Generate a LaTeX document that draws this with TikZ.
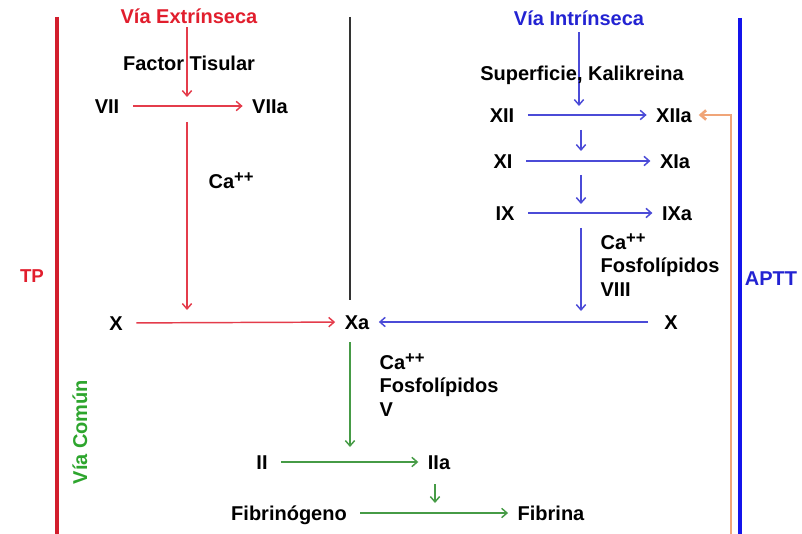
\documentclass[tikz,border=0pt]{standalone}
\usepackage{fontspec}
\setmainfont{Liberation Sans}
\usetikzlibrary{arrows.meta}
\definecolor{extred}{RGB}{225,30,45}
\definecolor{barred}{RGB}{210,30,45}
\definecolor{extarrow}{RGB}{228,60,75}
\definecolor{intblue}{RGB}{35,35,210}
\definecolor{intarrow}{RGB}{75,75,215}
\definecolor{barblue}{RGB}{20,20,235}
\definecolor{comgreen}{RGB}{45,165,45}
\definecolor{comarrow}{RGB}{70,155,70}
\definecolor{fborange}{RGB}{240,165,120}
\newcommand{\ionpp}{\raisebox{4.5pt}{\fontsize{12.5}{12.5}\selectfont ++}}

\begin{document}
\begin{tikzpicture}[x=0.75pt,y=0.75pt,yscale=-1,xscale=1,
  lbl/.style={font=\fontsize{15}{18}\selectfont\bfseries, inner sep=1pt, text height=10.7pt, text depth=0pt},
  blk/.style={font=\fontsize{15}{17.6}\selectfont\bfseries, inner sep=1pt, align=left, anchor=west},
  link/.style={line width=1.1pt, -{Straight Barb[length=4pt,width=7pt]}, shorten <=9pt, shorten >=6pt},
  drop/.style={line width=1.1pt, -{Straight Barb[length=4pt,width=7pt]}},
  bar/.style={line width=3pt}
]
\useasboundingbox (0,0) rectangle (802,534);

%bars
\coordinate (tpTop) at (57,17);
\coordinate (tpBot) at (57,534);
\coordinate (apTop) at (740,18);
\coordinate (apBot) at (740,534);
\coordinate (midTop) at (350,17);
\draw [bar, barred] (tpTop) -- (tpBot);
\draw [bar, barblue] (apTop) -- (apBot);
\node [lbl, extred, font=\fontsize{14}{16}\selectfont\bfseries] (tp) at (32,275) {TP};
\node [lbl, intblue] (aptt) at (771,278) {APTT};
\node [lbl, comgreen, rotate=90] (comun) at (80,432) {Vía Común};

% Via extrinseca
\node [lbl, extred] (extT) at (189,16) {Vía Extrínseca};
\coordinate (tf) at (187,97);
\draw [drop, extarrow, shorten <=2pt] (tf |- extT.south) -- (tf);
\node [lbl] (factor) at (189,63) {Factor Tisular};
\node [lbl] (vii) at (107,106) {VII};
\node [lbl] (viia) at (270,106) {VIIa};
\draw [link, extarrow] (vii) -- (viia);
\coordinate (r1) at (187,122);
\coordinate (r2) at (187,310);
\draw [drop, extarrow] (r1) -- (r2);
\node [blk] (caExt) at (207,181) {Ca\ionpp};
\node [lbl] (x1) at (116,323) {X};
\node [lbl] (xa) at (357,322) {Xa};
\draw [link, extarrow] (x1) -- (xa);

% Via intrinseca
\node [lbl, intblue] (intT) at (579,18) {Vía Intrínseca};
\coordinate (sk) at (579,106);
\draw [drop, intarrow, shorten <=4pt] (sk |- intT.south) -- (sk);
\node [lbl] (superf) at (582,73) {Superficie, Kalikreina};
\node [lbl] (xii) at (502,115) {XII};
\node [lbl] (xiia) at (674,115) {XIIa};
\draw [link, intarrow] (xii) -- (xiia);
\coordinate (s1) at (581,130);
\coordinate (s2) at (581,151);
\draw [drop, intarrow] (s1) -- (s2);
\node [lbl] (xi) at (503,161) {XI};
\node [lbl] (xia) at (675,161) {XIa};
\draw [link, intarrow] (xi) -- (xia);
\coordinate (s3) at (581,175);
\coordinate (s4) at (581,204);
\draw [drop, intarrow] (s3) -- (s4);
\node [lbl] (ix) at (505,213) {IX};
\node [lbl] (ixa) at (677,213) {IXa};
\draw [link, intarrow] (ix) -- (ixa);
\coordinate (b1) at (581,228);
\coordinate (b2) at (581,311);
\draw [drop, intarrow] (b1) -- (b2);
\node [blk] (caInt) at (599,265) {Ca\ionpp\\Fosfolípidos\\VIII};
\node [lbl] (x2) at (671,322) {X};
\draw [link, intarrow, shorten <=11pt] (x2) -- (xa);

% feedback
\coordinate (ob) at (731,534);
\draw [line width=2pt, fborange, -{Straight Barb[length=4pt,width=7pt]}, shorten >=4pt] (ob) |- (xiia);

% Via comun
\draw [line width=1pt, black!80, shorten >=10pt] (midTop) -- (midTop |- xa.north);
\coordinate (gm) at (350,447);
\draw [drop, comarrow, shorten <=8.5pt] (gm |- xa.south) -- (gm);
\node [blk] (caCom) at (378,385) {Ca\ionpp\\Fosfolípidos\\V};
\node [lbl] (ii) at (262,462) {II};
\node [lbl] (iia) at (439,462) {IIa};
\draw [link, comarrow] (ii) -- (iia);
\coordinate (g1) at (435,484);
\coordinate (g2) at (435,503);
\draw [drop, comarrow] (g1) -- (g2);
\node [lbl] (fibg) at (289,513) {Fibrinógeno};
\node [lbl] (fib) at (551,513) {Fibrina};
\draw [link, comarrow] (fibg) -- (fib);

\end{tikzpicture}
\end{document}
